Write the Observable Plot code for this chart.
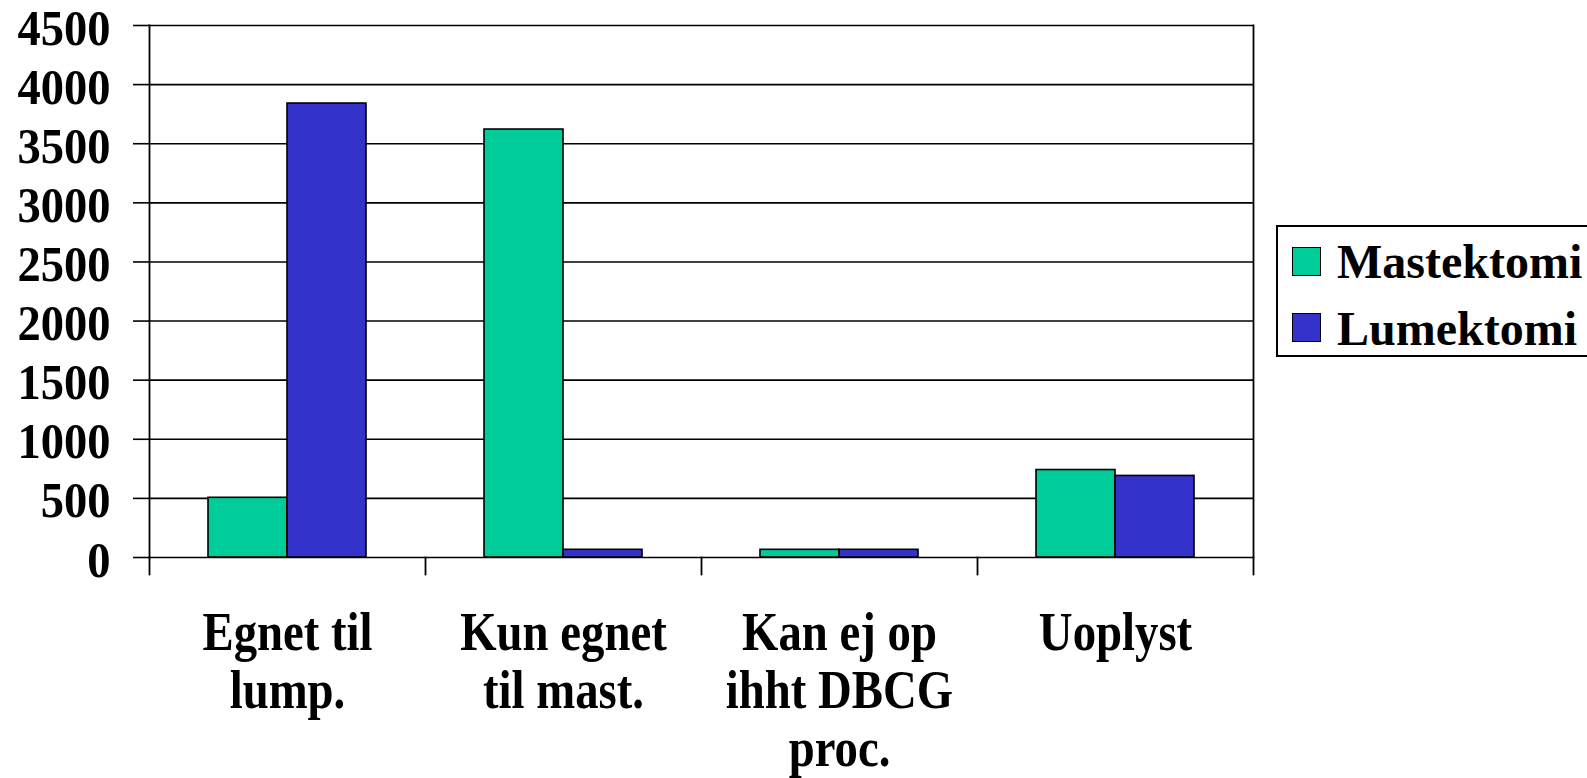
<!DOCTYPE html>
<html><head><meta charset="utf-8">
<script src="https://cdn.jsdelivr.net/npm/d3@7"></script>
<script src="https://cdn.jsdelivr.net/npm/@observablehq/plot@0.6"></script>
<style>
body{margin:0;background:#fff;overflow:hidden;width:1587px;height:778px;position:relative;font-family:"Liberation Serif","Times New Roman",serif;}
#chart svg{display:block}
#legend{position:absolute;left:1276px;top:225px;width:340px;height:128px;border:2px solid #000;background:#fff;}
#legend .sw{position:absolute;left:14px;width:27px;height:27px;border:1.5px solid #000;}
#legend .lb{position:absolute;left:59px;font-size:48px;font-weight:bold;line-height:48px;color:#000;white-space:nowrap;}
</style></head><body>
<div id="chart"></div>
<div id="legend"></div>
<script>
// Data
const categories = ["Egnet til\nlump.", "Kun egnet\ntil mast.", "Kan ej op\nihht DBCG\nproc.", "Uoplyst"];
const series = ["Mastektomi", "Lumektomi"];
const mastektomi = [505, 3620, 65, 740];
const lumektomi = [3840, 65, 65, 690];
const yTicks = [0, 500, 1000, 1500, 2000, 2500, 3000, 3500, 4000, 4500];
const colors = ["#00CC99", "#3333CC"];

const rows = [];
categories.forEach((c, i) => {
  rows.push({category: c, series: series[0], value: mastektomi[i]});
  rows.push({category: c, series: series[1], value: lumektomi[i]});
});

const W = 1587, H = 778;
const mL = 147, mR = 333, mT = 25, mB = 221;
const innerH = H - mT - mB;
const font = "Liberation Serif, Times New Roman, serif";
const catFont = 55, catSqueeze = 0.85;
const yFont = 50, ySqueeze = 0.93;

const plot = Plot.plot({
  width: W, height: H,
  marginLeft: mL, marginRight: mR, marginTop: mT, marginBottom: mB,
  style: {fontFamily: font, background: "#fff", overflow: "visible", color: "#000"},
  fx: {domain: categories, padding: 0, axis: null},
  x: {domain: series, paddingInner: 0, paddingOuter: 0.74, axis: null},
  y: {domain: [0, 4500], axis: null},
  color: {domain: series, range: colors},
  marks: [
    Plot.gridY(yTicks, {stroke: "#000", strokeOpacity: 1, strokeWidth: 1.6}),
    Plot.axisY(yTicks, {
      anchor: "left", tickSize: 16, tickPadding: 23, stroke: "#000", strokeWidth: 1.6,
      fontSize: yFont, fontWeight: "bold", fill: "#000", tickFormat: d => String(d), label: null
    }),
    Plot.barY(rows, {fx: "category", x: "series", y: "value", fill: "series", stroke: "#000", strokeWidth: 1.6}),
    Plot.frame({anchor: "left", facetAnchor: "left", stroke: "#000", strokeWidth: 1.8}),
    Plot.frame({anchor: "right", facetAnchor: "right", stroke: "#000", strokeWidth: 1.8}),
    Plot.frame({anchor: "left", insetTop: innerH, insetBottom: -17, stroke: "#000", strokeWidth: 1.8}),
    Plot.frame({anchor: "right", facetAnchor: "right", insetTop: innerH, insetBottom: -17, stroke: "#000", strokeWidth: 1.8}),
    Plot.text(categories, {
      fx: d => d, text: d => d, frameAnchor: "bottom", lineAnchor: "top", dy: 51,
      lineHeight: 1.06, fontSize: catFont, fontWeight: "bold", fill: "#000"
    })
  ]
});
document.getElementById("chart").appendChild(plot);

// The reference glyphs are taller than they are wide: narrow each text
plot.querySelectorAll("text").forEach(t => {
  const numeric = /^\s*\d+\s*$/.test(t.textContent);
  const squeeze = numeric ? ySqueeze : catSqueeze;
  if (numeric) t.setAttribute("dy", "0.06em");
  const tspans = t.querySelectorAll("tspan");
  const parts = tspans.length ? Array.from(tspans) : [t];
  parts.forEach(el => {
    const len = el.getComputedTextLength();
    if (len > 0) {
      el.setAttribute("textLength", (len * squeeze).toFixed(1));
      el.setAttribute("lengthAdjust", "spacingAndGlyphs");
    }
  });
});

// Legend built from the same series and colour arrays
const legend = d3.select("#legend");
series.forEach((s, i) => {
  legend.append("div").attr("class", "sw").style("top", (20 + i * 66) + "px").style("background", colors[i]);
  legend.append("div").attr("class", "lb").style("top", (11 + i * 67) + "px").text(s);
});
</script>
</body></html>
